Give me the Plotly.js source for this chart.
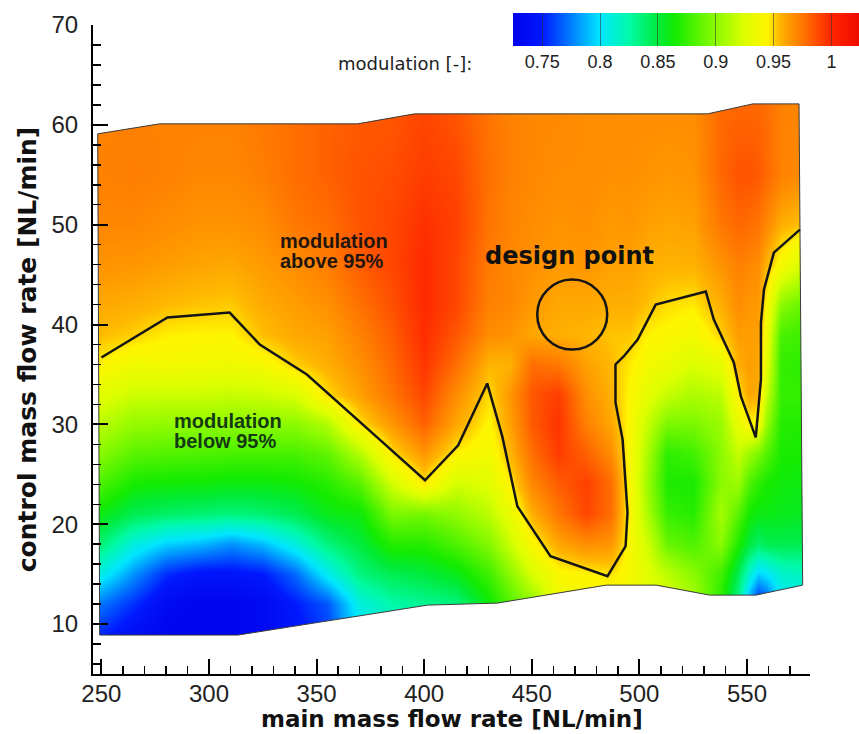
<!DOCTYPE html>
<html>
<head>
<meta charset="utf-8">
<script src="https://cdn.plot.ly/plotly-3.0.1.min.js"></script>
<style>html,body{margin:0;padding:0;background:#fff;}#chart{width:859px;height:734px;}</style>
</head>
<body>
<div id="chart"></div>
<script>
// grid of the measured field (main flow x, control flow y)
const xNodes = [248, 265, 280, 295, 310, 325, 340, 355, 370, 385, 400, 415, 430, 440, 450, 462, 475, 487, 495, 505, 513, 525, 538, 546, 551, 555, 559, 566, 578];
const yNodes = [9, 12, 15, 18, 21, 24, 27, 30, 33, 36, 39, 42, 46, 50, 55, 62];
// modulation values, one array per x node (bottom to top, matching yNodes)
const modulationByColumn = [
  [0.755,0.775,0.810,0.840,0.862,0.883,0.900,0.915,0.930,0.946,0.955,0.960,0.966,0.970,0.972,0.972],
  [0.740,0.755,0.780,0.810,0.845,0.865,0.885,0.903,0.920,0.936,0.951,0.958,0.965,0.970,0.973,0.972],
  [0.730,0.735,0.755,0.795,0.840,0.863,0.883,0.902,0.920,0.938,0.946,0.955,0.963,0.968,0.972,0.972],
  [0.730,0.730,0.745,0.790,0.838,0.862,0.882,0.902,0.920,0.937,0.945,0.953,0.961,0.966,0.970,0.972],
  [0.730,0.730,0.745,0.780,0.835,0.860,0.880,0.900,0.918,0.936,0.945,0.952,0.960,0.966,0.970,0.972],
  [0.735,0.735,0.750,0.790,0.838,0.860,0.880,0.900,0.920,0.940,0.954,0.959,0.964,0.968,0.973,0.975],
  [0.745,0.750,0.770,0.810,0.845,0.863,0.880,0.900,0.925,0.951,0.960,0.963,0.968,0.975,0.978,0.978],
  [0.760,0.765,0.805,0.835,0.858,0.870,0.887,0.912,0.949,0.958,0.962,0.967,0.973,0.978,0.982,0.982],
  [0.800,0.810,0.835,0.850,0.862,0.885,0.912,0.948,0.962,0.967,0.972,0.977,0.983,0.986,0.986,0.984],
  [0.810,0.825,0.845,0.870,0.895,0.922,0.948,0.965,0.976,0.980,0.983,0.987,0.990,0.990,0.988,0.985],
  [0.820,0.830,0.850,0.870,0.893,0.947,0.965,0.982,0.990,0.995,0.998,0.999,0.999,0.997,0.993,0.990],
  [0.830,0.835,0.858,0.882,0.902,0.922,0.945,0.960,0.968,0.978,0.985,0.990,0.990,0.992,0.990,0.985],
  [0.860,0.862,0.878,0.898,0.915,0.928,0.938,0.944,0.949,0.956,0.968,0.972,0.974,0.976,0.977,0.976],
  [0.878,0.883,0.900,0.920,0.933,0.946,0.956,0.962,0.965,0.957,0.966,0.970,0.970,0.971,0.972,0.972],
  [0.895,0.900,0.925,0.942,0.958,0.970,0.978,0.984,0.985,0.978,0.960,0.964,0.967,0.968,0.970,0.970],
  [0.930,0.935,0.942,0.960,0.975,0.983,0.993,0.996,0.993,0.975,0.958,0.960,0.964,0.966,0.968,0.970],
  [0.935,0.937,0.945,0.968,0.990,0.992,0.982,0.972,0.967,0.962,0.956,0.960,0.965,0.967,0.968,0.968],
  [0.935,0.940,0.948,0.965,0.978,0.978,0.968,0.960,0.957,0.955,0.953,0.958,0.962,0.964,0.967,0.968],
  [0.935,0.937,0.940,0.942,0.943,0.943,0.942,0.943,0.944,0.947,0.953,0.958,0.962,0.965,0.967,0.968],
  [0.928,0.928,0.926,0.918,0.905,0.900,0.905,0.915,0.928,0.937,0.945,0.953,0.958,0.962,0.966,0.968],
  [0.925,0.925,0.915,0.890,0.875,0.868,0.872,0.895,0.918,0.934,0.943,0.949,0.957,0.961,0.965,0.968],
  [0.910,0.910,0.900,0.882,0.870,0.866,0.878,0.895,0.910,0.925,0.938,0.947,0.957,0.962,0.966,0.968],
  [0.870,0.870,0.878,0.900,0.908,0.900,0.900,0.905,0.915,0.932,0.951,0.958,0.966,0.975,0.980,0.980],
  [0.830,0.830,0.845,0.868,0.885,0.905,0.918,0.932,0.946,0.958,0.963,0.968,0.972,0.980,0.986,0.980],
  [0.780,0.780,0.815,0.850,0.865,0.882,0.905,0.945,0.960,0.963,0.963,0.965,0.970,0.978,0.986,0.980],
  [0.750,0.750,0.795,0.840,0.860,0.872,0.895,0.940,0.958,0.960,0.962,0.964,0.968,0.976,0.984,0.980],
  [0.760,0.760,0.800,0.845,0.860,0.866,0.884,0.905,0.920,0.932,0.938,0.944,0.957,0.970,0.980,0.978],
  [0.800,0.800,0.815,0.846,0.858,0.862,0.866,0.870,0.874,0.874,0.880,0.900,0.940,0.958,0.972,0.972],
  [0.800,0.805,0.820,0.845,0.856,0.860,0.865,0.870,0.875,0.872,0.876,0.886,0.920,0.952,0.968,0.970]
];
// outline of the measured domain
const boundaryX = [248.3, 277, 369, 395.5, 531.7, 552.8, 574.2, 575.9, 554.2, 532.7, 507.8, 484.6, 434, 401.6, 313.5, 249.2, 248.3];
const boundaryY = [59.1, 60.1, 60.1, 61.1, 61.1, 62.1, 62.1, 13.9, 12.9, 12.9, 13.9, 13.9, 12.1, 11.9, 8.9, 8.9, 59.1];
// 95 % modulation iso-line
const contourX = [250, 280.7, 309.6, 323.6, 345.5, 363.9, 381.8, 400.4, 415.8, 429.3, 436.3, 443.3, 458.7, 485.2, 493.6, 494.5, 492.2, 488.9, 488.9, 492.7, 499.2, 507.6, 530.9, 534.6, 543.9, 547.2, 554.1, 556.5, 556.5, 557.9, 562.5, 574.6];
const contourY = [36.7, 40.7, 41.2, 38.0, 35.0, 31.5, 28.0, 24.4, 27.9, 34.1, 28.8, 21.8, 16.8, 14.8, 17.8, 21.2, 28.5, 32.2, 36.0, 36.8, 38.5, 42.0, 43.3, 40.5, 36.2, 32.8, 28.7, 34.5, 40.2, 43.5, 47.2, 49.5];
// design point
const designX = [468.8];
const designY = [41.0];
// colour bar ticks
const cbTickVals = [0.75, 0.8, 0.85, 0.9, 0.95, 1];
const cbTickText = ['0.75', '0.8', '0.85', '0.9', '0.95', '1'];

const z = yNodes.map((_, i) => modulationByColumn.map(col => col[i]));

const XR = [246.1, 579.3], YR = [5, 70];
// white mask outside the measured domain (keyhole polygon)
const mx = [XR[0]-10].concat(boundaryX, [XR[0]-10, XR[0]-10, XR[1]+10, XR[1]+10, XR[0]-10]);
const my = [YR[1]+10].concat(boundaryY, [YR[1]+10, YR[0]-10, YR[0]-10, YR[1]+10, YR[1]+10]);

const zmin = 0.725, zmax = 1.025;
const n = v => (v - zmin) / (zmax - zmin);
const colorscale = [
  [0, 'rgb(0,0,235)'],
  [n(0.75), 'rgb(0,25,255)'],
  [n(0.775), 'rgb(0,125,255)'],
  [n(0.80), 'rgb(0,230,255)'],
  [n(0.825), 'rgb(0,250,170)'],
  [n(0.85), 'rgb(0,235,60)'],
  [n(0.865), 'rgb(20,235,0)'],
  [n(0.90), 'rgb(140,250,0)'],
  [n(0.925), 'rgb(220,255,0)'],
  [n(0.945), 'rgb(255,245,0)'],
  [n(0.955), 'rgb(255,185,0)'],
  [n(0.965), 'rgb(255,150,0)'],
  [n(0.975), 'rgb(255,120,0)'],
  [n(0.99), 'rgb(255,70,0)'],
  [n(1.0), 'rgb(255,38,0)'],
  [1, 'rgb(240,10,0)']
];

const ARIAL = 'Liberation Sans, Arial, sans-serif';
const DEJA = 'DejaVu Sans, sans-serif';
const W = 859, H = 734, ML = 93, MR = 49, MT = 25, MB = 60;
const pw = W - ML - MR, ph = H - MT - MB;

const traces = [
  {
    type: 'heatmap', x: xNodes, y: yNodes, z: z, zsmooth: 'best',
    zmin: zmin, zmax: zmax, colorscale: colorscale, hoverinfo: 'skip',
    colorbar: {
      orientation: 'h', xanchor: 'left', x: (513.3 - ML) / pw,
      yanchor: 'top', y: (H - MB - 13.3) / ph,
      lenmode: 'pixels', len: 347.4, thickness: 33, xpad: 0, ypad: 0,
      outlinewidth: 0, tickmode: 'array', tickvals: cbTickVals, ticktext: cbTickText,
      ticks: 'inside', ticklen: 33, tickwidth: 1, tickcolor: 'rgba(50,50,50,0.55)',
      tickfont: {family: ARIAL, size: 18, color: '#222'},
      title: {text: ''}
    }
  },
  {type: 'scatter', mode: 'lines', x: mx, y: my, fill: 'toself', fillcolor: '#ffffff',
   line: {width: 0, color: 'rgba(0,0,0,0)'}, hoverinfo: 'skip'},
  {type: 'scatter', mode: 'lines', x: boundaryX, y: boundaryY,
   line: {width: 1, color: '#3a3a3a'}, hoverinfo: 'skip'},
  {type: 'scatter', mode: 'lines', x: contourX, y: contourY,
   line: {width: 2.5, color: '#151515'}, hoverinfo: 'skip'},
  {type: 'scatter', mode: 'markers', x: designX, y: designY,
   marker: {symbol: 'circle-open', size: 70, color: '#151515', line: {width: 2.5, color: '#151515'}},
   hoverinfo: 'skip'}
];

const axisCommon = {
  showline: true, linecolor: '#000', linewidth: 2, mirror: false,
  ticks: 'inside', ticklen: 15, tickwidth: 2, tickcolor: '#000',
  showgrid: false, zeroline: false,
  tickfont: {family: ARIAL, size: 24, color: '#222'}
};

const layout = {
  width: W, height: H,
  margin: {l: ML, r: MR, t: MT, b: MB, pad: 0, autoexpand: false},
  paper_bgcolor: '#fff', plot_bgcolor: '#fff', showlegend: false,
  xaxis: Object.assign({}, axisCommon, {
    range: XR, tick0: 250, dtick: 50, ticklabelstandoff: -3,
    minor: {ticks: 'inside', ticklen: 8, tickwidth: 1.5, tickcolor: '#000', dtick: 10, tick0: 250, showgrid: false}
  }),
  yaxis: Object.assign({}, axisCommon, {
    range: YR, tick0: 0, dtick: 10, ticklabelstandoff: 8,
    minor: {ticks: 'inside', ticklen: 8, tickwidth: 1.5, tickcolor: '#000', dtick: 2, tick0: 0, showgrid: false},
    title: {text: 'control mass flow rate [NL/min]', standoff: 8,
            font: {family: DEJA, size: 25, weight: 'bold', color: '#111'}}
  }),
  annotations: [
    {xref: 'paper', yref: 'paper', x: 0.5, y: (-(MB) + 0.2) / ph, xanchor: 'center', yanchor: 'bottom',
     text: 'main mass flow rate [NL/min]', showarrow: false,
     font: {family: DEJA, size: 23, weight: 'bold', color: '#111'}},
    {xref: 'x', yref: 'y', x: 467.6, y: 46.9, text: 'design point', showarrow: false,
     font: {family: DEJA, size: 24, weight: 'bold', color: '#111'}},
    {xref: 'x', yref: 'y', x: 332.1, y: 48.4, xanchor: 'left', text: 'modulation', showarrow: false,
     font: {family: ARIAL, size: 20, weight: 'bold', color: '#24160f'}},
    {xref: 'x', yref: 'y', x: 332.1, y: 46.4, xanchor: 'left', text: 'above 95%', showarrow: false,
     font: {family: ARIAL, size: 20, weight: 'bold', color: '#24160f'}},
    {xref: 'x', yref: 'y', x: 282.8, y: 30.33, xanchor: 'left', text: 'modulation', showarrow: false,
     font: {family: ARIAL, size: 20, weight: 'bold', color: '#133a13'}},
    {xref: 'x', yref: 'y', x: 282.8, y: 28.37, xanchor: 'left', text: 'below 95%', showarrow: false,
     font: {family: ARIAL, size: 20, weight: 'bold', color: '#133a13'}},
    {xref: 'paper', yref: 'paper', x: (474 - ML) / pw, y: (H - MB - 64) / ph, xanchor: 'right', yanchor: 'middle',
     text: 'modulation [-]:', showarrow: false, font: {family: DEJA, size: 18, color: '#222'}}
  ]
};

Plotly.newPlot('chart', traces, layout, {staticPlot: true, displayModeBar: false});
</script>
</body>
</html>
